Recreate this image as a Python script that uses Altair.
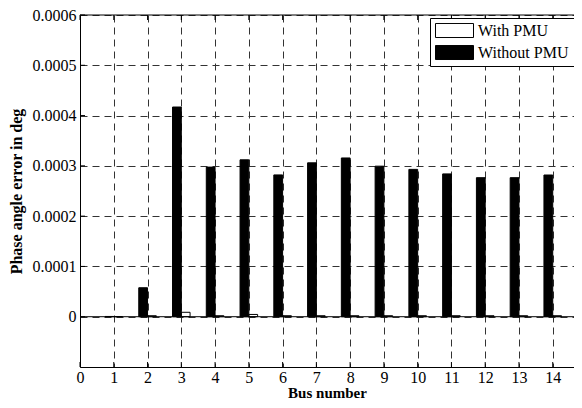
import altair as alt
import pandas as pd

# ---- data ----
buses = list(range(1, 15))
with_pmu = [0.0000003, 0.000002, 0.0000088, 0.000002, 0.0000045, 0.000002, 0.000002,
            0.000002, 0.000002, 0.000002, 0.000002, 0.000002, 0.000002, 0.000002]
without_pmu = [0.0000005, 0.0000576, 0.000417, 0.0002975, 0.000312, 0.000282, 0.000306,
               0.0003157, 0.0002994, 0.000293, 0.000284, 0.0002765, 0.0002765, 0.0002818]
series_names = ["With PMU", "Without PMU"]
x_ticks = list(range(0, 15))
y_ticks = [0, 0.0001, 0.0002, 0.0003, 0.0004, 0.0005, 0.0006]

W, H = 494, 352
FONT = "Liberation Serif"

rows = []
for b, w, wo in zip(buses, with_pmu, without_pmu):
    rows.append({"bus": b, "series": "With PMU", "value": w})
    rows.append({"bus": b, "series": "Without PMU", "value": wo})
df = pd.DataFrame(rows)

xscale = alt.Scale(domain=[0, 14.63], nice=False, zero=False)
yscale = alt.Scale(domain=[-0.0001, 0.0006], nice=False, zero=False)

x_axis = alt.Axis(
    values=x_ticks, grid=True, gridDash=[7, 5], gridColor="#333", gridWidth=1,
    ticks=False, domain=True, domainColor="black", domainWidth=1,
    labelFont=FONT, labelFontSize=16, labelColor="black", labelPadding=2, labelFlush=False,
    title="Bus number", titleFont=FONT, titleFontSize=15, titleFontWeight="bold",
    titleColor="black", titlePadding=0,
)
y_axis = alt.Axis(
    values=y_ticks, grid=True, gridDash=[7, 5], gridColor="#333", gridWidth=1,
    ticks=False, domain=True, domainColor="black", domainWidth=1,
    labelExpr="datum.value == 0 ? '0' : format(datum.value, '.4f')",
    labelFont=FONT, labelFontSize=16, labelColor="black", labelPadding=4,
    title="Phase angle error in deg", titleFont=FONT, titleFontSize=16,
    titleFontWeight="bold", titleColor="black", titlePadding=8,
)

legend = alt.Legend(
    title=None, orient="none", legendX=350, legendY=3,
    symbolType="M-1,-0.37H1V0.37H-1Z", symbolSize=1444,
    symbolStrokeColor="black", symbolStrokeWidth=1, symbolOpacity=1,
    labelFont=FONT, labelFontSize=16, labelColor="black", labelOffset=4, labelLimit=300,
    clipHeight=15, padding=5,
    strokeColor="black", fillColor="white",
)

bars = alt.Chart(df).transform_calculate(
    x0="datum.series === 'With PMU' ? datum.bus : datum.bus - 0.26",
    x1="datum.series === 'With PMU' ? datum.bus + 0.26 : datum.bus",
).mark_bar(stroke="black", strokeWidth=1, opacity=1).encode(
    x=alt.X("x0:Q", scale=xscale, axis=x_axis),
    x2="x1:Q",
    y=alt.Y("value:Q", scale=yscale, axis=y_axis),
    y2=alt.datum(0),
    fill=alt.Fill("series:N", scale=alt.Scale(domain=series_names, range=["white", "black"]),
                  legend=legend),
)

zero_line = alt.Chart(pd.DataFrame({"z": [0]})).mark_rule(color="black", strokeWidth=1).encode(
    y=alt.Y("z:Q", scale=yscale, axis=y_axis)
)

top_border = alt.Chart(pd.DataFrame({"z": [0]})).mark_rule(color="black", strokeWidth=1).encode(
    x=alt.value(0), x2=alt.value(W), y=alt.value(0)
)

xt = pd.DataFrame({"t": x_ticks})
top_ticks = alt.Chart(xt).mark_rule(color="black", strokeWidth=1).encode(
    x=alt.X("t:Q", scale=xscale, axis=x_axis), y=alt.value(0), y2=alt.value(5)
)
bottom_ticks = alt.Chart(xt).mark_rule(color="black", strokeWidth=1).encode(
    x=alt.X("t:Q", scale=xscale, axis=x_axis), y=alt.value(H), y2=alt.value(H - 5)
)
yt = pd.DataFrame({"v": y_ticks})
left_ticks = alt.Chart(yt).mark_rule(color="black", strokeWidth=1).encode(
    y=alt.Y("v:Q", scale=yscale, axis=y_axis), x=alt.value(0), x2=alt.value(5)
)

chart = alt.layer(
    bars, zero_line, top_border, top_ticks, bottom_ticks, left_ticks
).properties(
    width=W, height=H,
    padding={"left": 72, "top": 7, "right": 0, "bottom": 33},
    autosize=alt.AutoSizeParams(type="none"),
    background="white",
).configure_view(stroke=None).configure_legend(strokeWidth=1, rowPadding=5)

chart.save("out.html", embed_options={"renderer": "svg", "actions": False})
